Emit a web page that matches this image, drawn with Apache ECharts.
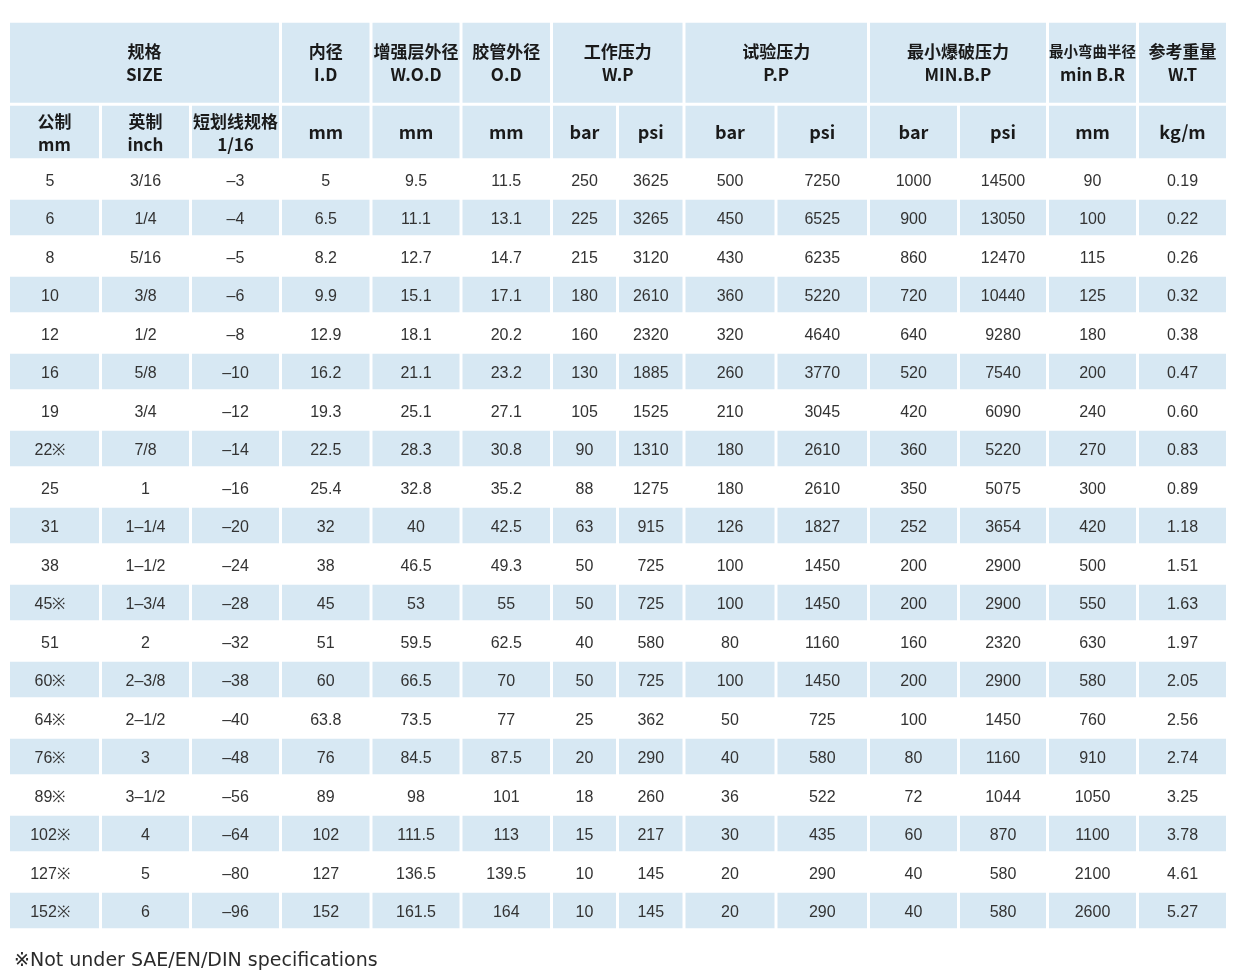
<!DOCTYPE html>
<html>
<head>
<meta charset="utf-8">
<script src="https://cdn.jsdelivr.net/npm/echarts@6/dist/echarts.min.js"></script>
<style>
  html, body { margin: 0; padding: 0; background: #ffffff; }
  #chart { width: 1240px; height: 980px; }
</style>
</head>
<body>
<div id="chart"></div>
<script>
// ---------- data ----------
const metric = ['5','6','8','10','12','16','19','22※','25','31','38','45※','51','60※','64※','76※','89※','102※','127※','152※'];
const inch = ['3/16','1/4','5/16','3/8','1/2','5/8','3/4','7/8','1','1–1/4','1–1/2','1–3/4','2','2–3/8','2–1/2','3','3–1/2','4','5','6'];
const dash = ['–3','–4','–5','–6','–8','–10','–12','–14','–16','–20','–24','–28','–32','–38','–40','–48','–56','–64','–80','–96'];
const innerDia = [5,6.5,8.2,9.9,12.9,16.2,19.3,22.5,25.4,32,38,45,51,60,63.8,76,89,102,127,152];
const reinfOD = [9.5,11.1,12.7,15.1,18.1,21.1,25.1,28.3,32.8,40,46.5,53,59.5,66.5,73.5,84.5,98,111.5,136.5,161.5];
const hoseOD = [11.5,13.1,14.7,17.1,20.2,23.2,27.1,30.8,35.2,42.5,49.3,55,62.5,70,77,87.5,101,113,139.5,164];
const wpBar = [250,225,215,180,160,130,105,90,88,63,50,50,40,50,25,20,18,15,10,10];
const wpPsi = [3625,3265,3120,2610,2320,1885,1525,1310,1275,915,725,725,580,725,362,290,260,217,145,145];
const ppBar = [500,450,430,360,320,260,210,180,180,126,100,100,80,100,50,40,36,30,20,20];
const ppPsi = [7250,6525,6235,5220,4640,3770,3045,2610,2610,1827,1450,1450,1160,1450,725,580,522,435,290,290];
const bpBar = [1000,900,860,720,640,520,420,360,350,252,200,200,160,200,100,80,72,60,40,40];
const bpPsi = [14500,13050,12470,10440,9280,7540,6090,5220,5075,3654,2900,2900,2320,2900,1450,1160,1044,870,580,580];
const bendRadius = [90,100,115,125,180,200,240,270,300,420,500,550,630,580,760,910,1050,1100,2100,2600];
const weight = [0.19,0.22,0.26,0.32,0.38,0.47,0.60,0.83,0.89,1.18,1.51,1.63,1.97,2.05,2.56,2.74,3.25,3.78,4.61,5.27];

const headerTop = [
  { from: 0, to: 2, lines: ['规格', 'SIZE'] },
  { from: 3, to: 3, lines: ['内径', 'I.D'] },
  { from: 4, to: 4, lines: ['增强层外径', 'W.O.D'] },
  { from: 5, to: 5, lines: ['胶管外径', 'O.D'] },
  { from: 6, to: 7, lines: ['工作压力', 'W.P'] },
  { from: 8, to: 9, lines: ['试验压力', 'P.P'] },
  { from: 10, to: 11, lines: ['最小爆破压力', 'MIN.B.P'] },
  { from: 12, to: 12, lines: ['最小弯曲半径', 'min B.R'], narrow: true },
  { from: 13, to: 13, lines: ['参考重量', 'W.T'] }
];
const headerSub = [['公制','mm'],['英制','inch'],['短划线规格','1/16'],['mm'],['mm'],['mm'],['bar'],['psi'],['bar'],['psi'],['bar'],['psi'],['mm'],['kg/m']];
const footnote = '※Not under SAE/EN/DIN specifications';

// ---------- layout (not data) ----------
const colEdges = [8.5, 100.5, 190.5, 280.5, 371, 461, 551.5, 617.5, 684, 776, 868.5, 958.5, 1047.5, 1137.5, 1227.5];
const headEdges = [21.2, 104.3, 159.8];
const rowPitch = 38.5;
const inset = 1.5;
const BLUE = '#d7e8f3';
const HEAD_FONT = '"Noto Sans CJK SC", "Noto Sans", sans-serif';
const DATA_FONT = '"Liberation Sans", Arial, sans-serif';

// ---------- build cells ----------
const cells = [];
headerTop.forEach(h => {
  cells.push({ x0: colEdges[h.from], x1: colEdges[h.to + 1], y0: headEdges[0], y1: headEdges[1],
    lines: h.lines, sizes: [h.narrow ? 14.5 : 17, 17], fill: BLUE, head: true, dx: 0 });
});
headerSub.forEach((t, c) => {
  cells.push({ x0: colEdges[c], x1: colEdges[c + 1], y0: headEdges[1], y1: headEdges[2],
    lines: t, sizes: t.length > 1 ? [17, 17] : [18], fill: BLUE, head: true, dx: 0 });
});
const columns = [
  metric, inch, dash,
  innerDia.map(String), reinfOD.map(String), hoseOD.map(String),
  wpBar.map(String), wpPsi.map(String), ppBar.map(String), ppPsi.map(String),
  bpBar.map(String), bpPsi.map(String), bendRadius.map(String), weight.map(v => v.toFixed(2))
];
metric.forEach((_, r) => {
  const y0 = headEdges[2] + r * rowPitch;
  columns.forEach((col, c) => {
    cells.push({ x0: colEdges[c], x1: colEdges[c + 1], y0: y0, y1: y0 + rowPitch,
      lines: [col[r]], sizes: [16], fill: r % 2 === 1 ? BLUE : '#ffffff', head: false, dx: c === 0 ? -4.5 : 0 });
  });
});

const LINE_H = 23;
const chart = echarts.init(document.getElementById('chart'), null, { renderer: 'canvas' });
chart.setOption({
  animation: false,
  backgroundColor: '#ffffff',
  title: {
    text: footnote,
    left: 9, top: 947,
    textStyle: { fontFamily: '"DejaVu Sans", sans-serif', fontSize: 19, fontWeight: 'normal', color: '#2b2b2b' }
  },
  grid: { left: 0, top: 0, right: 0, bottom: 0 },
  xAxis: { type: 'value', min: 0, max: 1240, show: false },
  yAxis: { type: 'value', min: 0, max: 980, inverse: true, show: false },
  series: [{
    type: 'custom',
    clip: false,
    data: cells.map(c => [c.x0, c.x1, c.y0, c.y1]),
    encode: { x: [0, 1], y: [2, 3] },
    renderItem: function (params, api) {
      const cell = cells[params.dataIndex];
      const p0 = api.coord([api.value(0), api.value(2)]);
      const p1 = api.coord([api.value(1), api.value(3)]);
      const x = p0[0] + inset, y = p0[1] + inset;
      const w = p1[0] - p0[0] - 2 * inset, h = p1[1] - p0[1] - 2 * inset;
      const children = [
        { type: 'rect', shape: { x: x, y: y, width: w, height: h }, style: { fill: cell.fill } }
      ];
      const n = cell.lines.length;
      const cy = y + h / 2 + (cell.head ? 0.5 : 2.5);
      cell.lines.forEach((line, i) => {
        children.push({
          type: 'text',
          x: x + w / 2 + cell.dx,
          y: cy + (i - (n - 1) / 2) * LINE_H,
          style: {
            text: line, align: 'center', verticalAlign: 'middle',
            fontFamily: cell.head ? HEAD_FONT : DATA_FONT,
            fontSize: cell.sizes[i], fontWeight: cell.head ? 'bold' : 'normal',
            fill: cell.head ? '#1a1a1a' : '#333333'
          }
        });
      });
      return { type: 'group', children: children };
    }
  }]
});
</script>
</body>
</html>
